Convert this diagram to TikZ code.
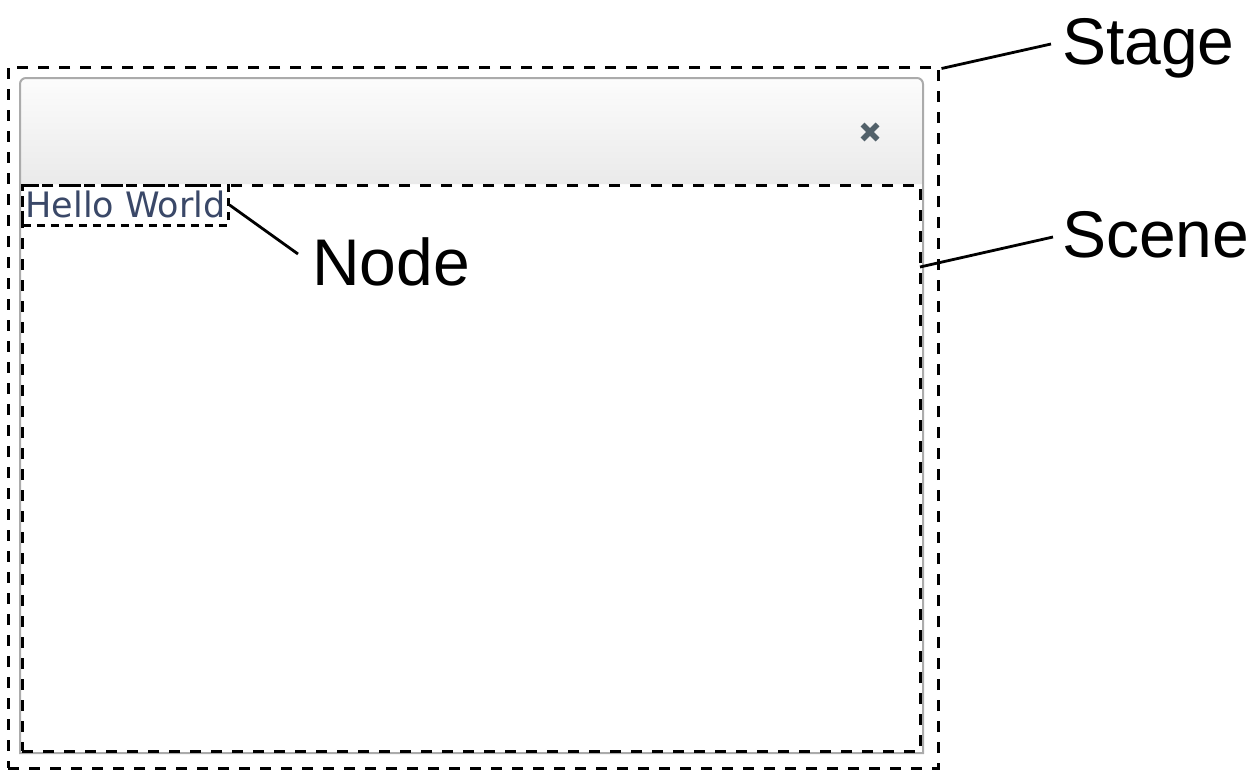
\documentclass[tikz,border=0pt]{standalone}
\usepackage{fontspec}
\setmainfont{Liberation Sans}
\newfontfamily\uifont{DejaVu Sans}
\usetikzlibrary{calc}

\definecolor{framegray}{HTML}{ABABAB}
\definecolor{bartop}{HTML}{FCFCFC}
\definecolor{barbottom}{HTML}{EAEAEA}
\definecolor{closegray}{HTML}{52616A}
\definecolor{uitext}{HTML}{3A4868}

\tikzset{
  dashbox/.style={draw=black, line width=3pt, dash pattern=on 11pt off 10pt,
    inner sep=0pt, fill=none},
  smalldashbox/.style={draw=black, line width=3pt, dash pattern=on 8pt off 6pt,
    inner ysep=0pt, inner xsep=2.5pt},
  leader/.style={draw=black, line width=2.8pt},
  callout/.style={font=\fontsize{66}{79}\selectfont, anchor=base west,
    inner sep=0pt, text height=40pt, text depth=0pt},
  uilabel/.style={font=\uifont\fontsize{35}{40}\selectfont, text=uitext,
    text height=25pt, text depth=0pt}
}

\begin{document}
\begin{tikzpicture}[x=1pt,y=-1pt]
  \useasboundingbox (0,0) rectangle (1260,771);

  % window body
  \fill[white] (20,78) rectangle (923,753);
  % title bar with gradient and rounded top corners
  \shade[top color=bartop, bottom color=barbottom]
    (20,184) -- (20,100) [rounded corners=6pt] -- (20,78) -- (923,78)
    -- (923,100) [sharp corners] -- (923,184) -- cycle;
  % window frame
  \draw[framegray, line width=2pt]
    (20,753) -- (20,100) [rounded corners=6pt] -- (20,78) -- (923,78)
    -- (923,100) [sharp corners] -- (923,753) -- cycle;

  % close button
  \coordinate (closebtn) at (870,132);
  \draw[closegray, line width=5.5pt]
    ($(closebtn)+(-7.5,-7.5)$) -- ($(closebtn)+(7.5,7.5)$)
    ($(closebtn)+(-7.5,7.5)$) -- ($(closebtn)+(7.5,-7.5)$);

  % stage, scene and node boxes
  \node[dashbox, minimum width=930pt, minimum height=701pt] (stage) at (473,417.5) {};
  \node[dashbox, minimum width=898pt, minimum height=566pt] (scene) at (471,468) {};
  \node[smalldashbox, uilabel, minimum height=40pt] (hello) at (125.5,205) {Hello World};

  % callout labels
  \node[callout] (stagelbl) at (1062,64) {Stage};
  \node[callout] (scenelbl) at (1062,257) {Scene};
  \node[callout] (nodelbl) at (312,285) {Node};

  % leader lines
  \coordinate (scenetip) at (920,267);
  \draw[leader] ($(stage.north east)+(2,3)$) -- ($(stagelbl.west)+(-11,0)$);
  \draw[leader] (scenetip) -- ($(scenelbl.west)+(-9,0)$);
  \draw[leader] (hello.east) -- ($(nodelbl.base west)+(-14,-31)$);
\end{tikzpicture}
\end{document}
